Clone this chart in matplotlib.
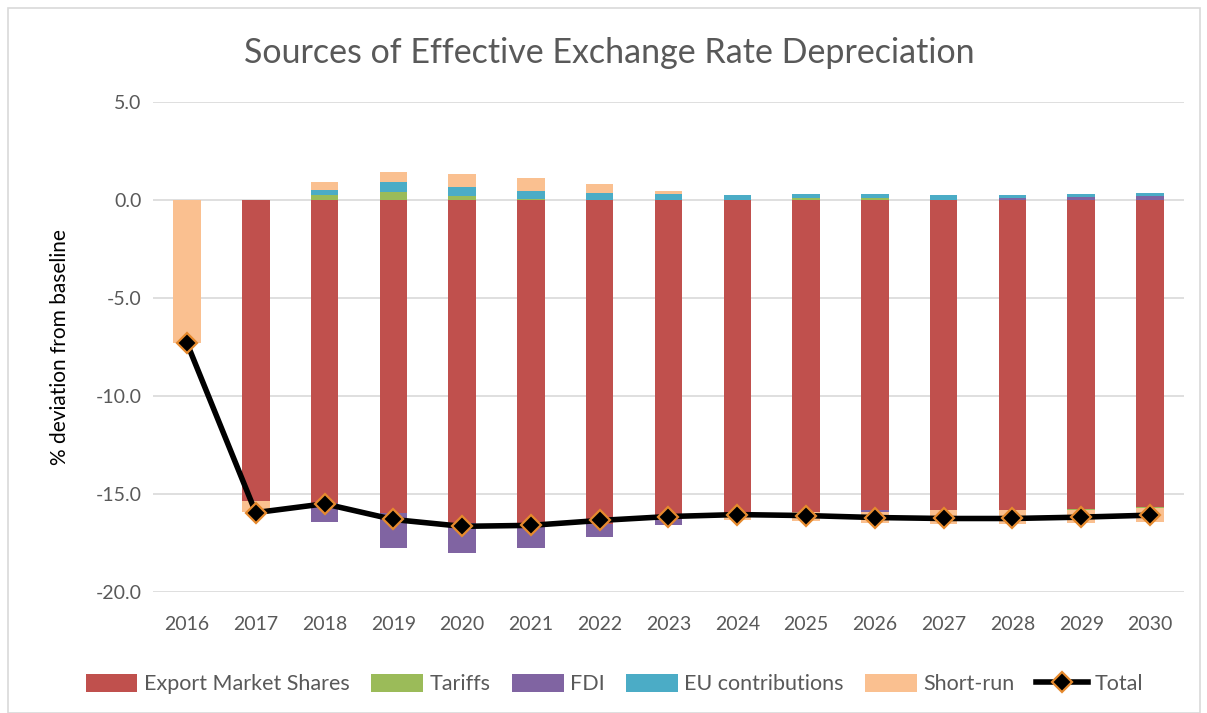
import matplotlib
matplotlib.use("Agg")
import matplotlib.pyplot as plt
import numpy as np
from matplotlib.patches import Rectangle

years = ["2016", "2017", "2018", "2019", "2020", "2021", "2022", "2023",
         "2024", "2025", "2026", "2027", "2028", "2029", "2030"]
export_market_shares = [0.0, -15.37, -15.48, -15.95, -16.46, -16.46, -16.55, -16.28,
                        -16.0, -15.9, -15.82, -15.82, -15.82, -15.77, -15.65]
tariffs = [0.0, 0.0, 0.24, 0.41, 0.22, 0.05, 0.02, 0.02, 0.0, 0.08, 0.08, 0.0, 0.0, -0.05, -0.08]
fdi = [0.0, 0.0, -0.97, -1.81, -1.55, -1.30, -0.62, -0.32, 0.0, -0.04, -0.08, 0.0, 0.12, 0.17, 0.22]
eu_contributions = [0.0, 0.0, 0.27, 0.53, 0.46, 0.39, 0.32, 0.27, 0.27, 0.22, 0.22, 0.27, 0.15, 0.14, 0.12]
short_run = [-7.28, -0.57, 0.41, 0.51, 0.66, 0.66, 0.48, 0.19, -0.33, -0.46, -0.6, -0.73, -0.73, -0.68, -0.68]
total = [-7.3, -15.95, -15.5, -16.3, -16.65, -16.6, -16.35, -16.15,
         -16.05, -16.1, -16.2, -16.25, -16.25, -16.18, -16.08]
y_ticks = [5.0, 0.0, -5.0, -10.0, -15.0, -20.0]

series = [
    ("Export Market Shares", export_market_shares, "#C0504D"),
    ("Tariffs", tariffs, "#9BBB59"),
    ("FDI", fdi, "#8064A2"),
    ("EU contributions", eu_contributions, "#4BACC6"),
    ("Short-run", short_run, "#FAC090"),
]

plt.rcParams['font.family'] = ['Lato', 'DejaVu Sans']
fig = plt.figure(figsize=(12.07, 7.13), dpi=100)
fig.patch.set_facecolor("white")
ax = fig.add_axes([0.1264, 0.1697, 0.8549, 0.6873])

x = np.arange(len(years))
pos_base = np.zeros(len(years))
neg_base = np.zeros(len(years))
handles = []
for name, vals, col in series:
    v = np.array(vals, dtype=float)
    bottoms = np.where(v >= 0, pos_base, neg_base)
    b = ax.bar(x, v, width=0.4, bottom=bottoms, color=col, label=name, zorder=2)
    handles.append(b)
    pos_base = pos_base + np.where(v > 0, v, 0)
    neg_base = neg_base + np.where(v < 0, v, 0)

ln, = ax.plot(x, total, color="black", linewidth=4, marker="D", markersize=10,
              markerfacecolor="black", markeredgecolor="#E68A2E", markeredgewidth=1.6,
              label="Total", zorder=3)
handles.append(ln)

ax.set_xlim(-0.5, len(years) - 0.5)
ax.set_ylim(-20, 5)
ax.set_yticks(y_ticks)
ax.set_yticklabels([f"{t:.1f}" for t in y_ticks])
ax.set_xticks(x)
ax.set_xticklabels(years)
ax.grid(axis="y", color="#D9D9D9", linewidth=1.2, zorder=0)
ax.set_axisbelow(True)
for s in ax.spines.values():
    s.set_visible(False)
ax.tick_params(axis="both", length=0, labelsize=14, labelcolor="#595959")
ax.tick_params(axis="x", pad=17)
ax.tick_params(axis="y", pad=8)

ax.set_ylabel("% deviation from baseline", fontsize=15, color="black", labelpad=18)

fig.text(0.505, 0.925, "Sources of Effective Exchange Rate Depreciation",
         ha="center", va="center", fontsize=24.5, color="#595959")

leg = fig.legend(handles=handles, labels=[h.get_label() for h in handles],
                 loc="center", bbox_to_anchor=(0.509, 0.04), ncol=6, frameon=False,
                 fontsize=15.5, handlelength=2.4, handleheight=0.85, columnspacing=1.0,
                 handletextpad=0.3, labelcolor="#595959")

fig.patches.append(Rectangle((8 / 1207, 0.0), 1192 / 1207, 1 - 8 / 713, transform=fig.transFigure,
                             fill=False, edgecolor="#D9D9D9", linewidth=1.2))

fig.savefig("out.png", dpi=100)
